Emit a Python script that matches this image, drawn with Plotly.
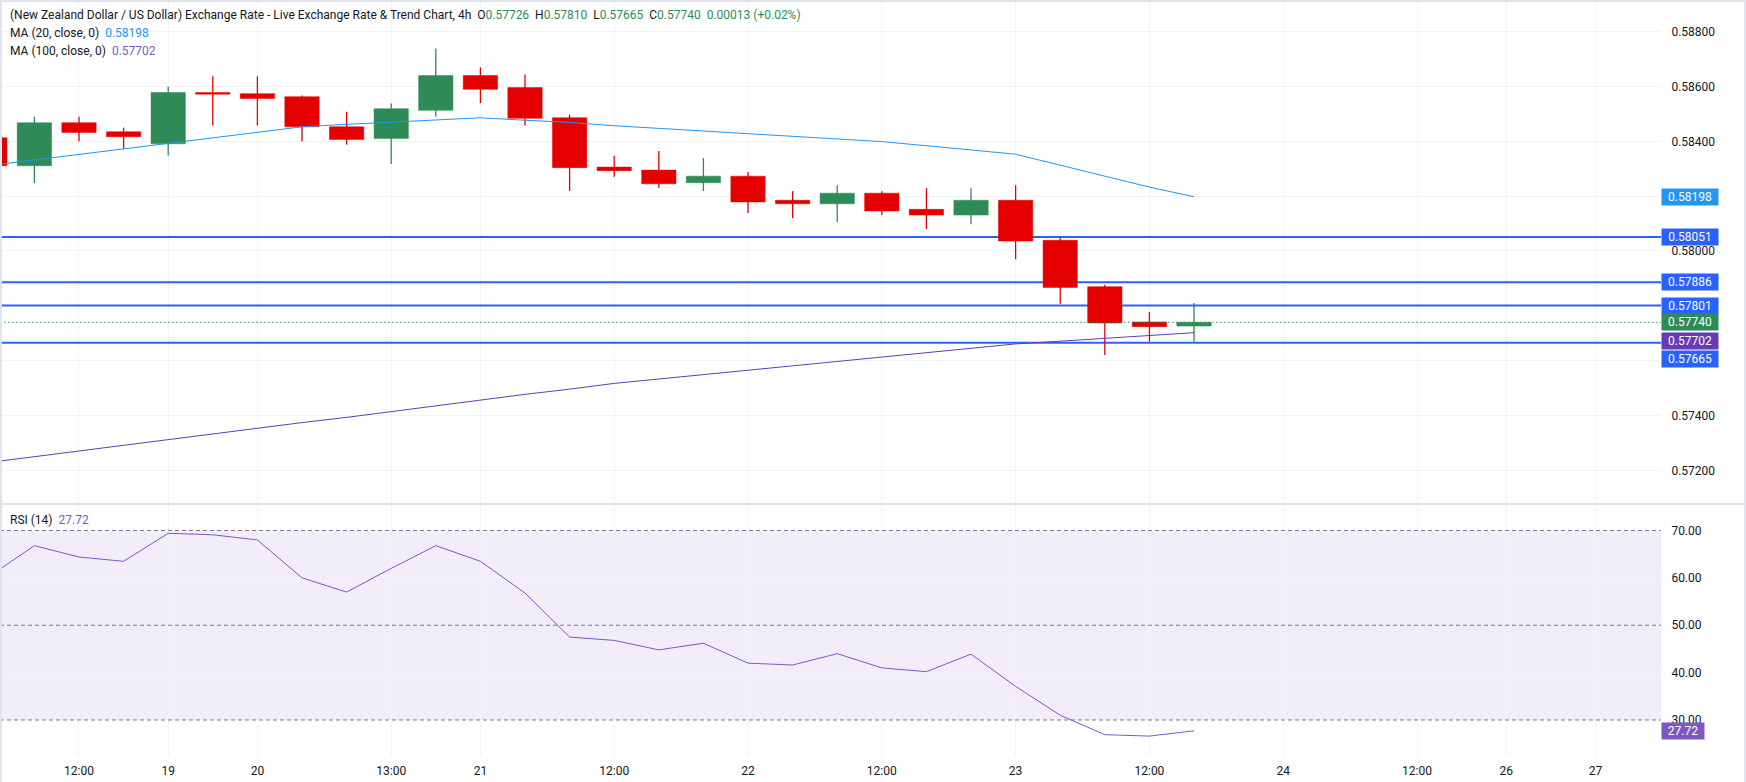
import plotly.graph_objects as go

# ---------------- data ----------------
bar_index = list(range(-1, 27))
opens  = [0.58413, 0.58311, 0.58468, 0.58435, 0.58391, 0.58578, 0.58574, 0.58563, 0.58453, 0.58410,
          0.58513, 0.58640, 0.58596, 0.58486, 0.58306, 0.58295, 0.58249, 0.58273, 0.58185, 0.58172,
          0.58211, 0.58152, 0.58131, 0.58185, 0.58039, 0.57870, 0.57741, 0.57726]
highs  = [0.58425, 0.58490, 0.58490, 0.58450, 0.58600, 0.58637, 0.58637, 0.58567, 0.58508, 0.58538,
          0.58739, 0.58670, 0.58644, 0.58497, 0.58347, 0.58365, 0.58339, 0.58288, 0.58218, 0.58240,
          0.58218, 0.58229, 0.58229, 0.58240, 0.58048, 0.57877, 0.57778, 0.57810]
lows   = [0.58290, 0.58248, 0.58399, 0.58372, 0.58348, 0.58458, 0.58458, 0.58399, 0.58388, 0.58317,
          0.58490, 0.58539, 0.58458, 0.58219, 0.58271, 0.58230, 0.58219, 0.58139, 0.58120, 0.58106,
          0.58131, 0.58080, 0.58098, 0.57970, 0.57808, 0.57621, 0.57669, 0.57665]
closes = [0.58311, 0.58468, 0.58432, 0.58417, 0.58578, 0.58572, 0.58556, 0.58453, 0.58407, 0.58519,
          0.58640, 0.58590, 0.58484, 0.58304, 0.58293, 0.58245, 0.58273, 0.58179, 0.58172, 0.58211,
          0.58146, 0.58131, 0.58185, 0.58036, 0.57867, 0.57737, 0.57724, 0.57740]
ma20   = [0.58312, 0.58332, 0.58352, 0.58371, 0.58391, 0.58412, 0.58432, 0.58453, 0.58462, 0.58470,
          0.58478, 0.58486, 0.58477, 0.58469, 0.58457, 0.58447, 0.58438, 0.58429, 0.58419, 0.58409,
          0.58399, 0.58384, 0.58368, 0.58353, 0.58313, 0.58273, 0.58233, 0.58198]
ma100  = [0.57229, 0.57250, 0.57271, 0.57291, 0.57312, 0.57332, 0.57353, 0.57374, 0.57393, 0.57414,
          0.57436, 0.57458, 0.57477, 0.57496, 0.57517, 0.57533, 0.57549, 0.57565, 0.57581, 0.57597,
          0.57613, 0.57629, 0.57645, 0.57661, 0.57671, 0.57681, 0.57692, 0.57702]
rsi    = [60.4, 66.8, 64.4, 63.5, 69.4, 69.1, 68.0, 60.0, 57.0, 62.0,
          66.8, 63.5, 56.8, 47.5, 46.8, 44.8, 46.2, 42.0, 41.6, 44.0,
          41.0, 40.2, 43.9, 37.1, 31.0, 26.9, 26.6, 27.72]

time_tick_pos = [1, 3, 5, 8, 10, 13, 16, 19, 22, 25, 28, 31, 33, 35]
time_tick_text = ["12:00", "19", "20", "13:00", "21", "12:00", "22", "12:00", "23", "12:00",
                  "24", "12:00", "26", "27"]
price_ticks = [0.572, 0.574, 0.576, 0.578, 0.580, 0.582, 0.584, 0.586, 0.588]
rsi_ticks = [30, 40, 50, 60, 70]
rsi_bands = [30, 50, 70]
levels = [0.58051, 0.57886, 0.57801, 0.57665]
last_price = 0.57740
header_ohlc = {"O": "0.57726", "H": "0.57810", "L": "0.57665", "C": "0.57740"}
header_change = "0.00013 (+0.02%)"

# ---------------- styles ----------------
UP = "#2e8b57"
DOWN = "#e50000"
BLUE = "#2962ff"
MA20_C = "#2196f3"
MA100_C = "#673ab7"
RSI_C = "#7e57c2"
TXT = "#131722"
GRID = "#f0f3fa"
FONT = "Roboto"
x_range = [-0.771, 36.47]
BODY_HALF = 0.385      # half candle-body width, in bar units
MIN_BODY = 0.00004     # minimum visible body height

fig = go.Figure()

# horizontal level lines (under the candles, above the grid)
for lv in levels:
    fig.add_trace(go.Scatter(x=x_range, y=[lv, lv], mode="lines", line=dict(color=BLUE, width=2),
                             hoverinfo="skip", showlegend=False, xaxis="x", yaxis="y"))

# candles: wicks then bodies, one pair of traces per colour
for col, is_up in ((UP, True), (DOWN, False)):
    wx, wy, bx, by = [], [], [], []
    for i, o, h, l, c in zip(bar_index, opens, highs, lows, closes):
        if (c >= o) != is_up:
            continue
        wx += [i, i, None]
        wy += [l, h, None]
        lo = min(o, c)
        hi = max(max(o, c), lo + MIN_BODY)
        bx += [i - BODY_HALF, i + BODY_HALF, i + BODY_HALF, i - BODY_HALF, i - BODY_HALF, None]
        by += [lo, lo, hi, hi, lo, None]
    fig.add_trace(go.Scatter(x=wx, y=wy, mode="lines", line=dict(color=col, width=1.3),
                             hoverinfo="skip", showlegend=False, xaxis="x", yaxis="y"))
    fig.add_trace(go.Scatter(x=bx, y=by, mode="lines", fill="toself", fillcolor=col,
                             line=dict(color=col, width=0.5),
                             hoverinfo="skip", showlegend=False, xaxis="x", yaxis="y"))

# moving averages
fig.add_trace(go.Scatter(x=bar_index, y=ma20, mode="lines", line=dict(color=MA20_C, width=1),
                         showlegend=False, xaxis="x", yaxis="y"))
fig.add_trace(go.Scatter(x=bar_index, y=ma100, mode="lines", line=dict(color=MA100_C, width=1),
                         showlegend=False, xaxis="x", yaxis="y"))

# RSI band dashed lines
for b in rsi_bands:
    fig.add_trace(go.Scatter(x=x_range, y=[b, b], mode="lines",
                             line=dict(color="#787b86", width=1, dash="4px,3px"),
                             hoverinfo="skip", showlegend=False, xaxis="x2", yaxis="y2"))
# RSI
fig.add_trace(go.Scatter(x=bar_index, y=rsi, mode="lines", line=dict(color=RSI_C, width=1),
                         showlegend=False, xaxis="x2", yaxis="y2"))

shapes = []
# RSI band fill
shapes.append(dict(type="rect", xref="x2 domain", yref="y2", x0=0, x1=1, y0=min(rsi_bands), y1=max(rsi_bands),
                   fillcolor="rgba(126,87,194,0.1)", line=dict(width=0), layer="below"))
# last price dotted line
shapes.append(dict(type="line", xref="x domain", yref="y", x0=0, x1=1, y0=last_price, y1=last_price,
                   line=dict(color=UP, width=1, dash="1.5px,2.5px")))

W, H = 1746, 782
ML, MR, MT, MB = 0, 85, 0, 26
PW, PH = W - ML - MR, H - MT - MB
xr = 1 + MR / PW
# pane separator and frame
shapes.append(dict(type="line", xref="paper", yref="paper", x0=0, x1=xr, y0=(PH - 504) / PH, y1=(PH - 504) / PH,
                   line=dict(color="#e0e3eb", width=2)))
shapes.append(dict(type="line", xref="paper", yref="paper", x0=0, x1=xr, y0=1 - 1 / PH, y1=1 - 1 / PH,
                   line=dict(color="#e0e3eb", width=2)))
shapes.append(dict(type="line", xref="paper", yref="paper", x0=1 / PW, x1=1 / PW, y0=-MB / PH, y1=1,
                   line=dict(color="#e0e3eb", width=2)))
shapes.append(dict(type="line", xref="paper", yref="paper", x0=xr - 1 / PW, x1=xr - 1 / PW, y0=-MB / PH, y1=1,
                   line=dict(color="#e0e3eb", width=2)))

annotations = []
# right-side value tags
tags = [(ma20[-1], MA20_C, 0), (levels[0], BLUE, 0), (levels[1], BLUE, 0),
        (levels[2], BLUE, 0), (last_price, UP, 0), (ma100[-1], MA100_C, -8),
        (levels[3], BLUE, -16)]
for v, col, ys in tags:
    annotations.append(dict(xref="paper", yref="y", x=1, y=v, xanchor="left", yanchor="middle",
                            text=f"{v:.5f}", showarrow=False, bgcolor=col, width=52, height=12,
                            borderpad=2, yshift=ys, font=dict(family=FONT, size=12, color="white")))
annotations.append(dict(xref="paper", yref="y2", x=1, y=rsi[-1], xanchor="left", yanchor="middle",
                        text=f"{rsi[-1]:.2f}", showarrow=False, bgcolor=RSI_C, width=38, height=12,
                        borderpad=2, font=dict(family=FONT, size=12, color="white")))

# header legends
sp = "\u00a0\u00a0"
hdr = "(New Zealand Dollar / US Dollar) Exchange Rate - Live Exchange Rate &amp; Trend Chart, 4h" + sp
hdr += sp.join(f"{k}<span style='color:{UP}'>{v}</span>" for k, v in header_ohlc.items())
hdr += sp + f"<span style='color:{UP}'>{header_change}</span>"
annotations.append(dict(xref="paper", yref="paper", x=8 / PW, y=(PH - 15) / PH, xanchor="left", yanchor="middle",
                        text=hdr, showarrow=False, font=dict(family=FONT, size=12, color=TXT)))
annotations.append(dict(xref="paper", yref="paper", x=8 / PW, y=(PH - 33) / PH, xanchor="left", yanchor="middle",
                        text=f"MA (20, close, 0)\u00a0\u00a0<span style='color:{MA20_C}'>{ma20[-1]:.5f}</span>",
                        showarrow=False, font=dict(family=FONT, size=12, color=TXT)))
annotations.append(dict(xref="paper", yref="paper", x=8 / PW, y=(PH - 51) / PH, xanchor="left", yanchor="middle",
                        text=f"MA (100, close, 0)\u00a0\u00a0<span style='color:{RSI_C}'>{ma100[-1]:.5f}</span>",
                        showarrow=False, font=dict(family=FONT, size=12, color=TXT)))
annotations.append(dict(xref="paper", yref="paper", x=8 / PW, y=(PH - 520) / PH, xanchor="left", yanchor="middle",
                        text=f"RSI (14)\u00a0\u00a0<span style='color:{RSI_C}'>{rsi[-1]:.2f}</span>",
                        showarrow=False, font=dict(family=FONT, size=12, color=TXT)))

fig.update_layout(
    width=W, height=H,
    margin=dict(l=ML, r=MR, t=MT, b=MB),
    paper_bgcolor="white", plot_bgcolor="white",
    showlegend=False, hovermode=False,
    font=dict(family=FONT, size=12, color=TXT),
    xaxis=dict(domain=[0, 1], anchor="y", range=x_range, tickvals=time_tick_pos, ticktext=time_tick_text,
               showticklabels=False, showgrid=True, gridcolor=GRID, gridwidth=1, zeroline=False,
               showline=False, ticks=""),
    yaxis=dict(domain=[(PH - 503) / PH, 1], anchor="x", side="right", range=[0.570807, 0.589156],
               tickvals=price_ticks, tickformat=".5f", showgrid=True, gridcolor=GRID, zeroline=False,
               showline=False, ticks="outside", ticklen=7, tickcolor="rgba(0,0,0,0)",
               tickfont=dict(family=FONT, size=12, color=TXT)),
    xaxis2=dict(domain=[0, 1], anchor="y2", range=x_range, tickvals=time_tick_pos, ticktext=time_tick_text,
                showgrid=True, gridcolor=GRID, zeroline=False, showline=False,
                ticks="outside", ticklen=4, tickcolor="rgba(0,0,0,0)",
                tickfont=dict(family=FONT, size=12, color=TXT)),
    yaxis2=dict(domain=[0, (PH - 505) / PH], anchor="x2", side="right", range=[22.4, 75.38],
                tickvals=rsi_ticks, tickformat=".2f", showgrid=True, gridcolor=GRID, zeroline=False,
                showline=False, ticks="outside", ticklen=7, tickcolor="rgba(0,0,0,0)",
                tickfont=dict(family=FONT, size=12, color=TXT)),
    shapes=shapes,
    annotations=annotations,
)

fig.write_html("out.html")
